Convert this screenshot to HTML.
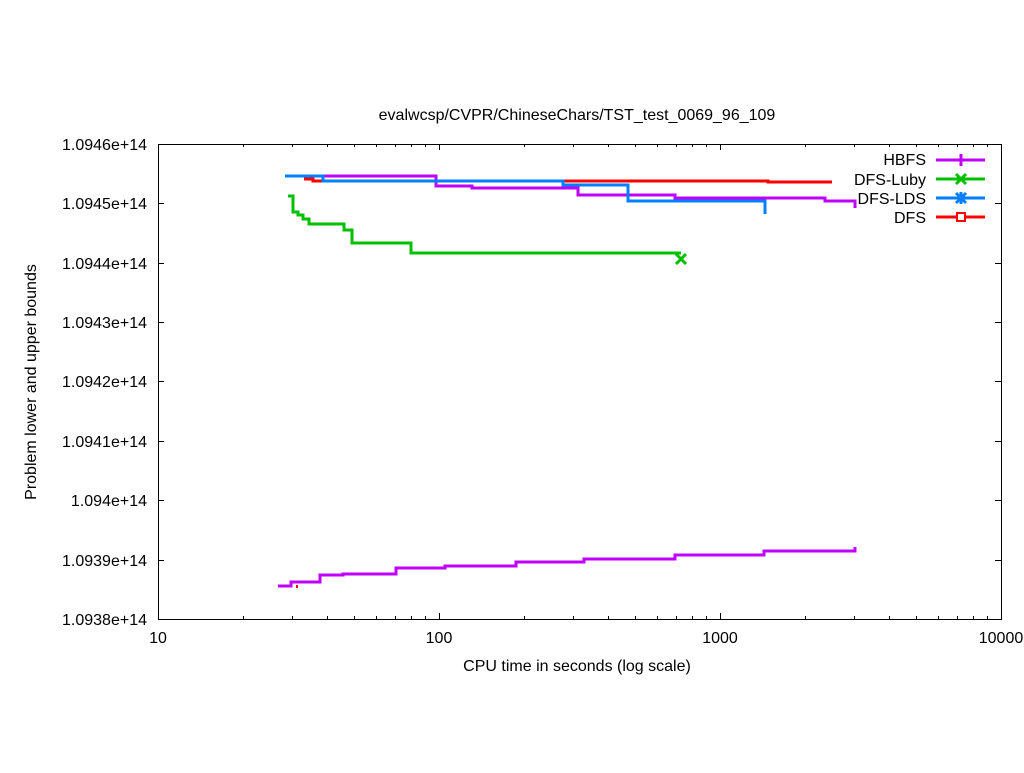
<!DOCTYPE html>
<html><head><meta charset="utf-8"><style>
html,body{margin:0;padding:0;background:#fff;}
svg text{font-family:"Liberation Sans",Arial,sans-serif;font-size:16px;fill:#000;}
</style></head><body>
<svg width="1024" height="768" xmlns="http://www.w3.org/2000/svg">
<rect width="1024" height="768" fill="#fff"/>
<g stroke="#000" stroke-width="1" fill="none" shape-rendering="crispEdges">
<rect x="158.5" y="144.5" width="843" height="475"/>
<path d="M158 203.5h6M995 203.5h6M158 263.5h6M995 263.5h6M158 322.5h6M995 322.5h6M158 381.5h6M995 381.5h6M158 441.5h6M995 441.5h6M158 500.5h6M995 500.5h6M158 560.5h6M995 560.5h6"/>
<path d="M439.5 619v-6M439.5 144v6M720.5 619v-6M720.5 144v6"/>
<path d="M243.5 619v-3M292.5 619v-3M327.5 619v-3M354.5 619v-3M376.5 619v-3M395.5 619v-3M411.5 619v-3M425.5 619v-3
M524.5 619v-3M573.5 619v-3M608.5 619v-3M635.5 619v-3M657.5 619v-3M676.5 619v-3M692.5 619v-3M706.5 619v-3
M805.5 619v-3M854.5 619v-3M889.5 619v-3M916.5 619v-3M938.5 619v-3M957.5 619v-3M973.5 619v-3M987.5 619v-3
M243.5 144v3M292.5 144v3M327.5 144v3M354.5 144v3M376.5 144v3M395.5 144v3M411.5 144v3M425.5 144v3
M524.5 144v3M573.5 144v3M608.5 144v3M635.5 144v3M657.5 144v3M676.5 144v3M692.5 144v3M706.5 144v3
M805.5 144v3M854.5 144v3M889.5 144v3M916.5 144v3M938.5 144v3M957.5 144v3M973.5 144v3M987.5 144v3"/>
</g>
<g text-anchor="end">
<text x="147" y="150">1.0946e+14</text>
<text x="147" y="209">1.0945e+14</text>
<text x="147" y="269">1.0944e+14</text>
<text x="147" y="328">1.0943e+14</text>
<text x="147" y="387">1.0942e+14</text>
<text x="147" y="447">1.0941e+14</text>
<text x="147" y="506">1.094e+14</text>
<text x="147" y="566">1.0939e+14</text>
<text x="147" y="625">1.0938e+14</text>
</g>
<g text-anchor="middle">
<text x="158" y="643">10</text>
<text x="439" y="643">100</text>
<text x="720" y="643">1000</text>
<text x="1001" y="643">10000</text>
<text x="577" y="671">CPU time in seconds (log scale)</text>
<text x="577" y="120">evalwcsp/CVPR/ChineseChars/TST_test_0069_96_109</text>
<text transform="translate(36,382) rotate(-90)">Problem lower and upper bounds</text>
</g>
<g fill="none" stroke-width="3" stroke-linejoin="miter">
<path stroke="#ff0000" d="M304 179H313V181H323 M563 181H768V182H832"/>
<rect x="296" y="585" width="2" height="3" fill="#ff0000" stroke="none"/>
<path stroke="#c000ff" d="M285 176H436V186H472V188H578V195H675V198H825V201H855V208"/>
<path stroke="#0080ff" d="M285 176H323V181H563V185H628V201H765V214"/>
<path stroke="#00c000" d="M288 196H293V212H298V215H303V219H309V224H344V230H352V243H411V253H681"/>
<path stroke="#c000ff" d="M278 586H291V582H320V575H343V574H396V568H445V566H516V562H584V559H675V555H764V551H855V547"/>
<path stroke="#00c000" d="M676 254L686 264M686 254L676 264"/>
</g>
<g text-anchor="end">
<text x="926" y="165">HBFS</text>
<text x="926" y="185">DFS-Luby</text>
<text x="926" y="204">DFS-LDS</text>
<text x="926" y="223">DFS</text>
</g>
<g fill="none" stroke-width="3">
<path stroke="#c000ff" d="M936 160H985M961 154V166"/>
<path stroke="#00c000" d="M936 179H985M956 174L966 184M966 174L956 184"/>
<path stroke="#0080ff" d="M936 198H985M956 193L966 203M966 193L956 203M961 192V204"/>
<path stroke="#ff0000" d="M936 217H985"/>
<rect x="957" y="213" width="8" height="8" stroke="#ff0000" stroke-width="2" fill="#fff"/>
</g>
</svg>
</body></html>
